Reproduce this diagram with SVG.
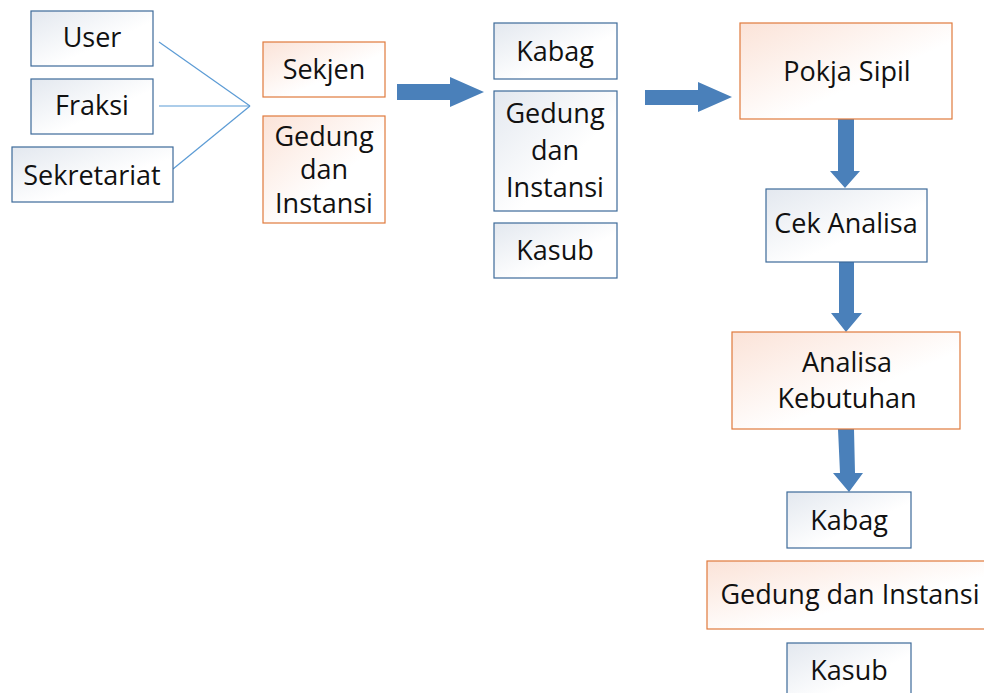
<svg xmlns="http://www.w3.org/2000/svg" width="984" height="693" viewBox="0 0 984 693">
  <defs>
    <linearGradient id="gBlue" x1="0" y1="0" x2="1" y2="1">
      <stop offset="0" stop-color="#e3e8ef"/>
      <stop offset="0.6" stop-color="#ffffff"/>
    </linearGradient>
    <linearGradient id="gOrange" x1="0" y1="0" x2="1" y2="1">
      <stop offset="0" stop-color="#fbe3d8"/>
      <stop offset="0.6" stop-color="#ffffff"/>
    </linearGradient>
    <style>
      .b { fill: url(#gBlue); stroke: #3d6a99; stroke-width: 1.2; }
      .o { fill: url(#gOrange); stroke: #e07a3c; stroke-width: 1.2; }
      .t { font-family: "Open Sans", "Liberation Sans", sans-serif; font-size: 27px; fill: #111; text-anchor: middle; }
      .arrow { fill: #4a80ba; }
      .line { stroke: #5b9bd5; stroke-width: 1.2; fill: none; }
    </style>
  </defs>
  <rect width="984" height="693" fill="#ffffff"/>

  <!-- connectors -->
  <g id="connectors">
    <line class="line" x1="159" y1="42" x2="250" y2="106"/>
    <line class="line" x1="159" y1="106" x2="250" y2="106"/>
    <line class="line" x1="173" y1="169" x2="250" y2="106"/>
    <polygon class="arrow" points="397,84 450,84 450,77 484,92 450,107 450,100 397,100"/>
    <polygon class="arrow" points="645,90 698,90 698,82 732,97 698,112 698,105 645,105"/>
    <polygon class="arrow" points="838,119 854,119 854,171 860,171 845,188 830,171 838,171"/>
    <polygon class="arrow" points="839,262 854,262 854,313 862,313 846,332 831,313 839,313"/>
    <polygon class="arrow" points="838,429 854,429 855,473 863,473 849,492 833,473 840,473"/>
  </g>

  <g id="user"><rect class="b" x="31" y="11" width="122" height="55"/><text class="t" x="92" y="47">User</text></g>
  <g id="fraksi"><rect class="b" x="31" y="79" width="122" height="55"/><text class="t" x="92" y="115">Fraksi</text></g>
  <g id="sekretariat"><rect class="b" x="12" y="147" width="161" height="55"/><text class="t" x="92" y="185">Sekretariat</text></g>

  <g id="sekjen"><rect class="o" x="263" y="42" width="122" height="55"/><text class="t" x="324" y="79">Sekjen</text></g>
  <g id="gedung1"><rect class="o" x="263" y="116" width="122" height="107"/>
    <text class="t" x="324" y="146">Gedung</text><text class="t" x="324" y="179">dan</text><text class="t" x="324" y="213">Instansi</text></g>

  <g id="kabag1"><rect class="b" x="494" y="23" width="123" height="56"/><text class="t" x="555" y="61">Kabag</text></g>
  <g id="gedung2"><rect class="b" x="494" y="91" width="123" height="120"/>
    <text class="t" x="555" y="123">Gedung</text><text class="t" x="555" y="160">dan</text><text class="t" x="555" y="197">Instansi</text></g>
  <g id="kasub1"><rect class="b" x="494" y="223" width="123" height="55"/><text class="t" x="555" y="260">Kasub</text></g>

  <g id="pokja"><rect class="o" x="740" y="23" width="212" height="96"/><text class="t" x="847" y="81">Pokja Sipil</text></g>
  <g id="cek"><rect class="b" x="766" y="189" width="161" height="73"/><text class="t" x="846" y="233">Cek Analisa</text></g>
  <g id="analisa"><rect class="o" x="732" y="332" width="228" height="97"/>
    <text class="t" x="847" y="372">Analisa</text><text class="t" x="847" y="408">Kebutuhan</text></g>
  <g id="kabag2"><rect class="b" x="787" y="492" width="124" height="56"/><text class="t" x="849" y="530">Kabag</text></g>
  <g id="gedung3"><rect class="o" x="707" y="561" width="286" height="68"/><text class="t" x="850" y="604">Gedung dan Instansi</text></g>
  <g id="kasub2"><rect class="b" x="787" y="643" width="124" height="60"/><text class="t" x="849" y="680">Kasub</text></g>
</svg>
